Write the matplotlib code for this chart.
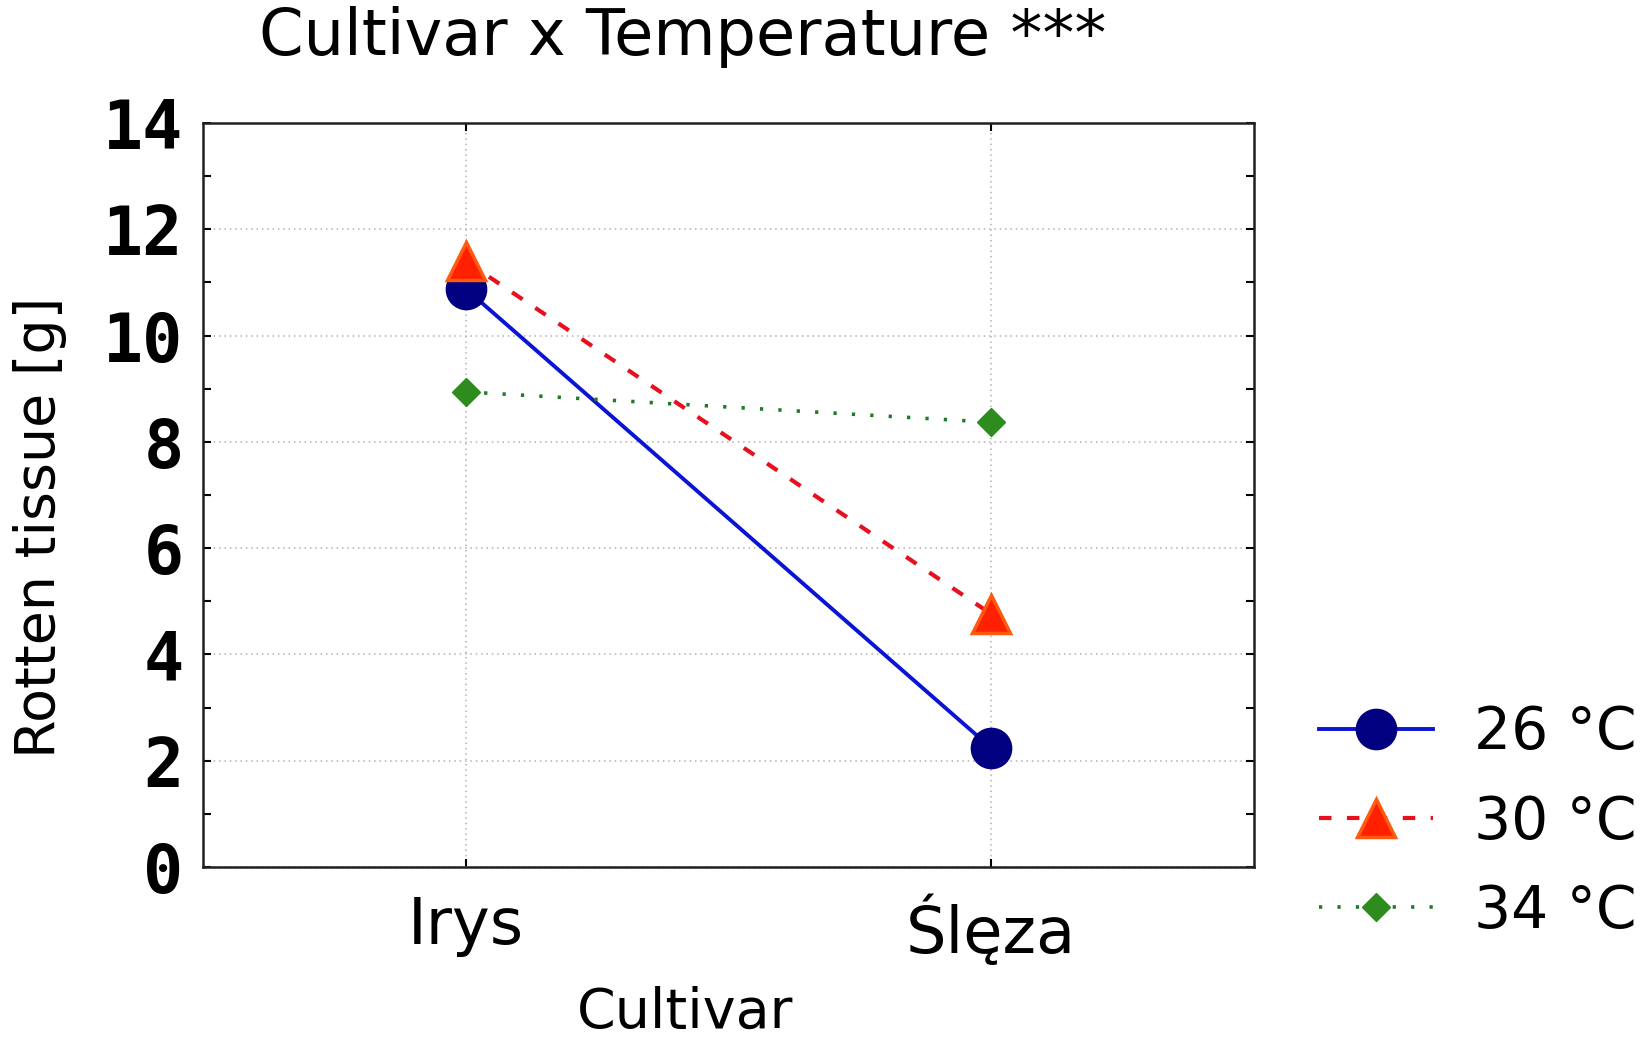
import matplotlib
matplotlib.use("Agg")
import matplotlib.pyplot as plt
from matplotlib.ticker import MultipleLocator

# Data: mean rotten tissue (g) per cultivar at each storage temperature
cultivars = ["Irys", "Ślęza"]
temp_labels = ["26 °C", "30 °C", "34 °C"]
rot_26 = [10.88, 2.24]
rot_30 = [11.40, 4.76]
rot_34 = [8.94, 8.37]
y_ticks = [0, 2, 4, 6, 8, 10, 12, 14]

W, H, DPI = 1652, 1037, 100
fig = plt.figure(figsize=(W / DPI, H / DPI), dpi=DPI)
ax = fig.add_axes([203 / W, 1 - 867 / H, (1254 - 203) / W, (867 - 123) / H])

x = list(range(len(cultivars)))

ax.plot(x, rot_26, color="#0a14d2", lw=2.8, marker="o", ms=29,
        mfc="#000080", mec="#000080", label=temp_labels[0], zorder=3)
ax.plot(x, rot_30, color="#e8101e", lw=3.0, dashes=(3.0, 3.7), marker="^", ms=28,
        mfc="#ff2000", mec="#ff5a10", mew=2.5, label=temp_labels[1], zorder=4)
ax.plot(x, rot_34, color="#1f7a2a", lw=2.6, dashes=(0.9, 4.2), marker="D", ms=14,
        mfc="#2e8b1e", mec="#2e8b1e", label=temp_labels[2], zorder=3)

ax.set_xlim(-0.5, 1.5)
ax.set_ylim(0, 14)
ax.set_xticks(x)
ax.set_xticklabels(cultivars, fontsize=46)
ax.set_yticks(y_ticks)
ax.yaxis.set_minor_locator(MultipleLocator(1))
ax.set_yticklabels([str(v) for v in y_ticks],
                   fontdict={"family": "DejaVu Sans Mono", "weight": "bold", "size": 48})

ax.tick_params(axis="y", which="both", direction="in", left=True, right=True,
               length=6, width=1.5, pad=14)
ax.tick_params(axis="x", which="both", direction="in", top=True, bottom=True,
               length=6, width=1.5, pad=20)

ax.grid(True, which="major", color="#b0b0b0", linestyle=(0, (1, 2.5)), lw=1.1)
for s in ax.spines.values():
    s.set_linewidth(1.8)
    s.set_color("#202020")

fig.text(683 / W, 1 - 37 / H, "Cultivar x Temperature ***", fontsize=46,
         ha="center", va="center")
fig.text(685 / W, 1 - 1013 / H, "Cultivar", fontsize=40, ha="center", va="center")
fig.text(40 / W, 1 - 527 / H, "Rotten tissue [g]", fontsize=40, rotation=90,
         ha="center", va="center")

fig.legend(loc="center left", bbox_to_anchor=(1319 / W, 1 - 822 / H),
           frameon=False, fontsize=42, handlelength=1.95, handletextpad=0.7,
           labelspacing=0.55, borderaxespad=0, borderpad=0)

fig.savefig("out.png", dpi=DPI)
